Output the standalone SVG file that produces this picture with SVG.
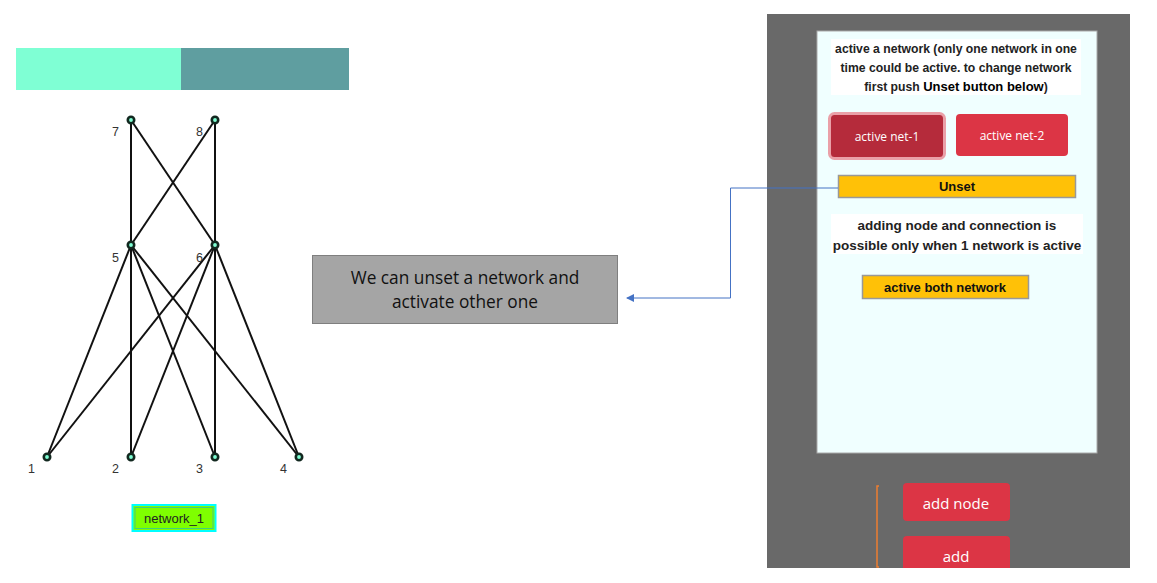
<svg xmlns="http://www.w3.org/2000/svg" width="1157" height="583" viewBox="0 0 1157 583">
<style>
.edge{stroke:#111;stroke-width:2;fill:none}
.nd{fill:#7fffd4;stroke:#12281f;stroke-width:2.6}
.nl{font-family:"Liberation Sans",Arial,sans-serif;font-size:12.5px;fill:#333}
.info{font-family:"Liberation Sans",Arial,sans-serif;font-weight:bold;fill:#222;text-anchor:middle}
.btn{font-family:"Open Sans","Liberation Sans",sans-serif;fill:#fff;text-anchor:middle}
.ybtn{fill:#ffc107;stroke:#999;stroke-width:1.5}
.ytx{font-family:"Liberation Sans",Arial,sans-serif;font-size:13px;font-weight:bold;fill:#111;text-anchor:middle}
</style>
<defs>
<marker id="arr" markerWidth="8" markerHeight="8" refX="7" refY="4" orient="auto" markerUnits="userSpaceOnUse">
<path d="M0,0 L8,4 L0,8 Z" fill="#4472c4"/>
</marker>
</defs>
<rect width="1157" height="583" fill="#fff"/>
<g id="topbar">
<rect x="16" y="48" width="165" height="42" fill="#7fffd4"/>
<rect x="181" y="48" width="168" height="42" fill="#5f9ea0"/>
</g>
<g id="edges">
<line class="edge" x1="131" y1="120" x2="131" y2="245"/>
<line class="edge" x1="131" y1="120" x2="215" y2="245"/>
<line class="edge" x1="215" y1="120" x2="131" y2="245"/>
<line class="edge" x1="215" y1="120" x2="215" y2="245"/>
<line class="edge" x1="131" y1="245" x2="47" y2="457"/>
<line class="edge" x1="131" y1="245" x2="131" y2="457"/>
<line class="edge" x1="131" y1="245" x2="215" y2="457"/>
<line class="edge" x1="131" y1="245" x2="299" y2="457"/>
<line class="edge" x1="215" y1="245" x2="47" y2="457"/>
<line class="edge" x1="215" y1="245" x2="131" y2="457"/>
<line class="edge" x1="215" y1="245" x2="215" y2="457"/>
<line class="edge" x1="215" y1="245" x2="299" y2="457"/>
</g>
<g id="node7"><circle class="nd" cx="131" cy="120" r="3.2"/><text class="nl" x="112" y="136">7</text></g>
<g id="node8"><circle class="nd" cx="215" cy="120" r="3.2"/><text class="nl" x="196" y="136">8</text></g>
<g id="node5"><circle class="nd" cx="131" cy="245" r="3.2"/><text class="nl" x="112" y="262">5</text></g>
<g id="node6"><circle class="nd" cx="215" cy="245" r="3.2"/><text class="nl" x="196" y="262">6</text></g>
<g id="node1"><circle class="nd" cx="47" cy="457" r="3.2"/><text class="nl" x="28" y="473">1</text></g>
<g id="node2"><circle class="nd" cx="131" cy="457" r="3.2"/><text class="nl" x="112" y="473">2</text></g>
<g id="node3"><circle class="nd" cx="215" cy="457" r="3.2"/><text class="nl" x="196" y="473">3</text></g>
<g id="node4"><circle class="nd" cx="299" cy="457" r="3.2"/><text class="nl" x="280" y="473">4</text></g>
<g id="netlabel">
<rect x="132.5" y="505" width="83" height="26" fill="#7fff00" stroke="#00ffff" stroke-width="2"/>
<rect x="135" y="507.5" width="78" height="21" fill="none" stroke="#3fd07f" stroke-width="1"/>
<text x="174" y="523" font-family="'Liberation Sans',Arial,sans-serif" font-size="13" fill="#222" text-anchor="middle">network_1</text>
</g>
<g id="callout">
<rect x="312.5" y="255.5" width="305" height="68" fill="#a5a5a5" stroke="#7f7f7f" stroke-width="1"/>
<text x="465" y="284" font-family="'Open Sans','Liberation Sans',sans-serif" font-size="17.3" fill="#111" text-anchor="middle">We can unset a network and</text>
<text x="465" y="308" font-family="'Open Sans','Liberation Sans',sans-serif" font-size="17.3" fill="#111" text-anchor="middle">activate other one</text>
</g>
<g id="panel">
<rect x="767" y="14" width="363" height="569" fill="#696969"/>
<rect x="817" y="31" width="280" height="422" fill="#f0ffff" stroke="#aaa" stroke-width="1"/>
<rect x="831" y="39" width="250" height="56" fill="#fff"/>
<text class="info" x="956" y="53" font-size="12.2">active a network (only one network in one</text>
<text class="info" x="956" y="72" font-size="12.2">time could be active. to change network</text>
<text class="info" x="956" y="91" font-size="12.2">first push <tspan fill="#000" font-size="13">Unset button below</tspan>)</text>
<rect x="831" y="214" width="252" height="40" fill="#fff"/>
<text class="info" x="957" y="230" font-size="13.5">adding node and connection is</text>
<text class="info" x="957" y="250" font-size="13.5">possible only when 1 network is active</text>
</g>
<g id="btn-net1">
<rect x="829.5" y="113.5" width="115" height="45" rx="5" fill="#b52b3b" stroke="#eaa0a8" stroke-width="3"/>
<text class="btn" x="887" y="141" font-size="12">active net-1</text>
</g>
<g id="btn-net2">
<rect x="956" y="114" width="112" height="42" rx="4" fill="#dc3545"/>
<text class="btn" x="1012" y="140" font-size="12">active net-2</text>
</g>
<g id="btn-unset">
<rect class="ybtn" x="838.5" y="175.5" width="237" height="22"/>
<text class="ytx" x="957" y="191" font-size="12">Unset</text>
</g>
<g id="btn-both">
<rect class="ybtn" x="862.5" y="275.5" width="166" height="23"/>
<text class="ytx" x="945" y="292">active both network</text>
</g>
<g id="btn-addnode">
<rect x="903" y="483" width="107" height="38" rx="4" fill="#dc3545"/>
<text class="btn" x="956" y="509" font-size="15">add node</text>
</g>
<g id="btn-add">
<rect x="903" y="536" width="107" height="40" rx="4" fill="#dc3545"/>
<text class="btn" x="956" y="562" font-size="15">add</text>
</g>
<rect x="767" y="568" width="390" height="15" fill="#fff"/>
<g id="bracket">
<path d="M879,486 L877,486 L877,567 L879,567" fill="none" stroke="#ed7d31" stroke-width="1.5"/>
</g>
<g id="connectors">
<path d="M838,188 L730.5,188 L730.5,298 L627,298" fill="none" stroke="#4472c4" stroke-width="1" marker-end="url(#arr)"/>
</g>
</svg>
